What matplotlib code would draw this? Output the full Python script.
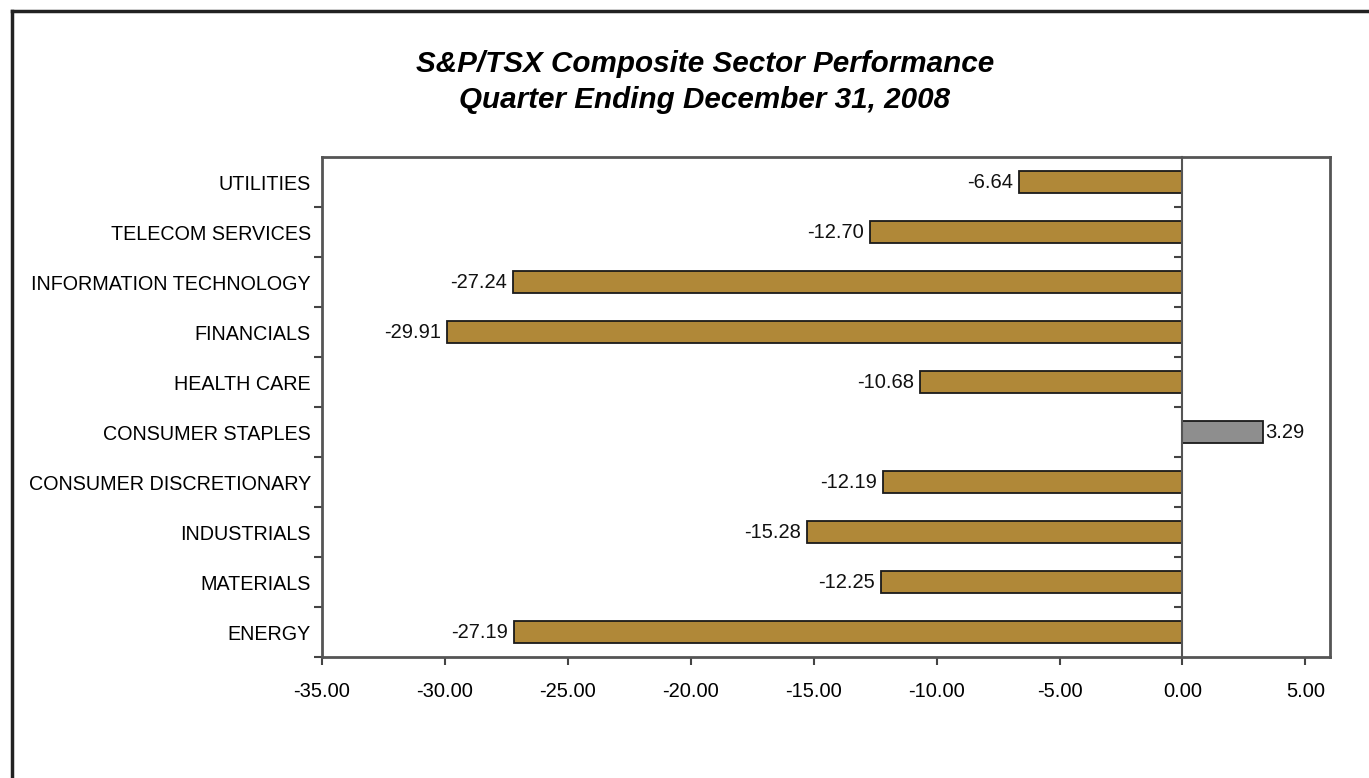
import matplotlib.pyplot as plt
from matplotlib.lines import Line2D

sectors = ["ENERGY", "MATERIALS", "INDUSTRIALS", "CONSUMER DISCRETIONARY",
           "CONSUMER STAPLES", "HEALTH CARE", "FINANCIALS",
           "INFORMATION TECHNOLOGY", "TELECOM SERVICES", "UTILITIES"]
returns = [-27.19, -12.25, -15.28, -12.19, 3.29, -10.68, -29.91, -27.24, -12.70, -6.64]
xticks = [-35, -30, -25, -20, -15, -10, -5, 0, 5]

plt.rcParams['font.family'] = ['Liberation Sans', 'DejaVu Sans']

fig = plt.figure(figsize=(13.69, 7.78), dpi=100)
ax = fig.add_axes([0.2352, 0.1555, 0.7363, 0.6427])

gold = '#B08838'
grey = '#8E8E8E'
colors = [grey if v > 0 else gold for v in returns]
ypos = list(range(len(sectors)))
ax.barh(ypos, returns, height=0.44, color=colors, edgecolor='#1a1a1a', linewidth=1.3, zorder=3)

for y, v in zip(ypos, returns):
    if v < 0:
        ax.text(v - 0.25, y, f"{v:.2f}", ha='right', va='center', fontsize=14.5, color='#111111')
    else:
        ax.text(v + 0.08, y, f"{v:.2f}", ha='left', va='center', fontsize=14.5, color='#111111')

ax.set_xlim(-35, 6)
ax.set_ylim(-0.5, len(sectors) - 0.5)
ax.set_xticks(xticks)
ax.set_xticklabels([f"{t:.2f}" for t in xticks], fontsize=14.5)
ax.set_yticks(ypos)
ax.set_yticklabels(sectors, fontsize=14.2)
ax.tick_params(axis='y', which='major', length=0, pad=8)
ax.set_yticks([y + 0.5 for y in ypos[:-1]] + [-0.5], minor=True)
ax.tick_params(axis='y', which='minor', length=6, width=1.5, color='#444444')
ax.tick_params(axis='x', length=6, width=1.5, color='#444444', pad=12)

for s in ax.spines.values():
    s.set_color('#555555')
    s.set_linewidth(2)

# zero line with its own tick marks
ax2 = ax.twinx()
ax2.set_ylim(ax.get_ylim())
ax2.spines['left'].set_position(('data', 0))
ax2.spines['left'].set_color('#555555')
ax2.spines['left'].set_linewidth(1.5)
for side in ['right', 'top', 'bottom']:
    ax2.spines[side].set_visible(False)
ax2.yaxis.set_ticks_position('left')
ax2.set_yticks([y + 0.5 for y in ypos[:-1]])
ax2.set_yticklabels([])
ax2.tick_params(axis='y', length=6, width=1.5, color='#444444')

fig.text(0.515, 0.918, "S&P/TSX Composite Sector Performance", ha='center', va='center',
         fontsize=21.3, fontweight='bold', fontstyle='italic')
fig.text(0.515, 0.871, "Quarter Ending December 31, 2008", ha='center', va='center',
         fontsize=21.3, fontweight='bold', fontstyle='italic')

# outer frame (top and left only visible)
fig.add_artist(Line2D([0.0085, 1.0], [0.9858, 0.9858], transform=fig.transFigure, color='#222222', lw=2.5))
fig.add_artist(Line2D([0.0085, 0.0085], [0.0, 0.9858], transform=fig.transFigure, color='#222222', lw=2.5))

fig.savefig('out.png', dpi=100)
